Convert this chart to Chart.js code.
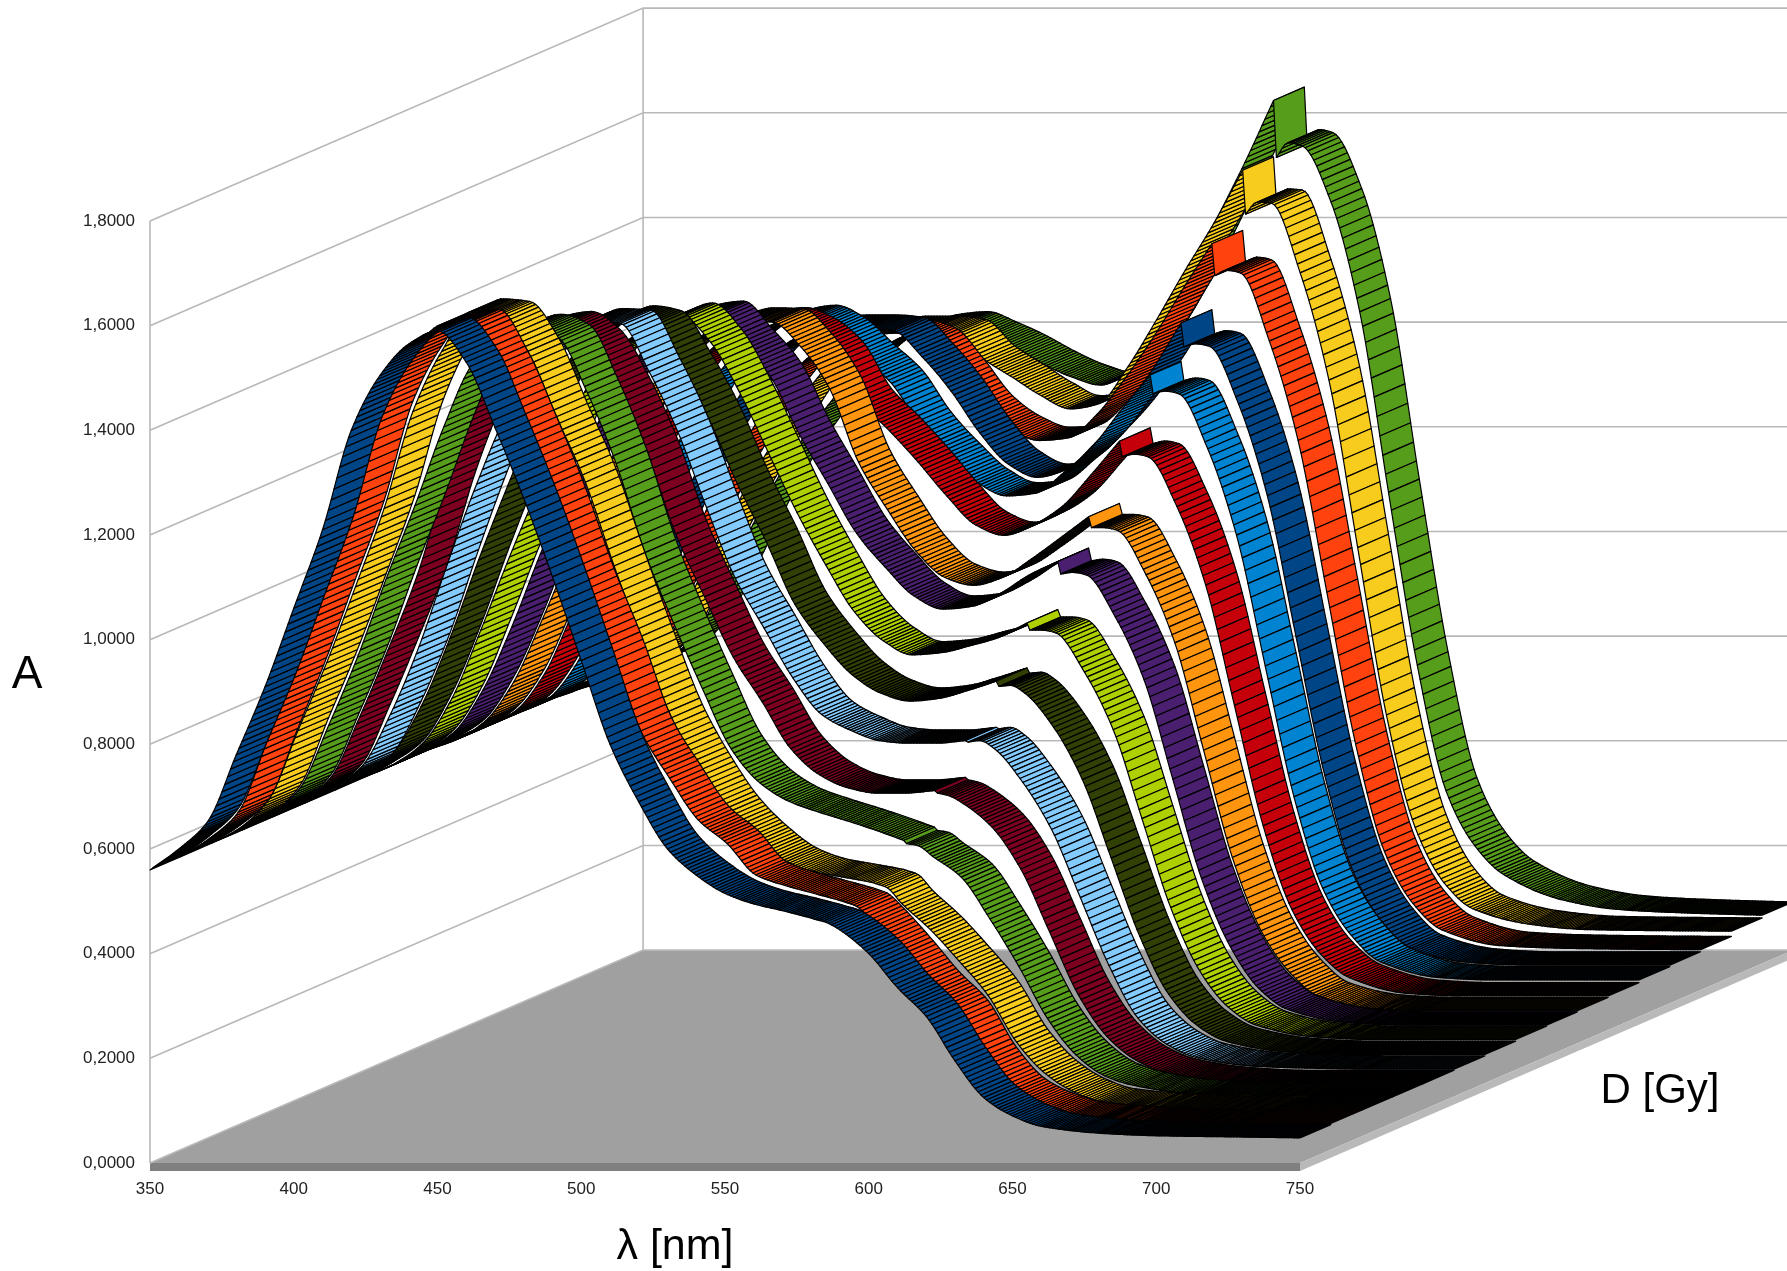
<!DOCTYPE html>
<html><head><meta charset="utf-8">
<style>html,body{margin:0;padding:0;background:#fff}canvas{display:block;filter:blur(.45px)}</style>
<script src="https://cdn.jsdelivr.net/npm/chart.js@4/dist/chart.umd.min.js"></script>
</head><body>
<canvas id="c" width="1787" height="1271"></canvas>
<script>
const wavelengths=[350,360,370,380,390,400,410,420,430,440, 450,460,470,480,490,500,510,520,530,540, 550,560,570,580,581,585,590,600,610,620, 630,640,650,660,680,700,725,750];
const s00=[.56,.60,.652,.78,.91,1.06,1.21,1.40,1.505,1.565, 1.59,1.53,1.405,1.27,1.12,.96,.80,.69,.60,.55, .515,.495,.482,.468,.466,.46,.445,.40,.335,.28, .195,.125,.09,.07,.057,.052,.05,.048];
const s01=[.56,.595,.645,.78,.915,1.065,1.215,1.405,1.51,1.575, 1.58,1.50,1.375,1.24,1.085,.95,.80,.71,.63,.585, .525,.505,.49,.475,.473,.465,.44,.38,.315,.26, .17,.11,.082,.066,.056,.052,.05,.05];
const s02=[.56,.59,.645,.775,.905,1.05,1.20,1.385,1.50,1.575, 1.57,1.50,1.375,1.25,1.09,.94,.80,.70,.62,.565, .525,.505,.495,.485,.483,.475,.445,.395,.335,.27, .18,.12,.085,.066,.056,.052,.05,.05];
const s03=[.56,.59,.64,.76,.89,1.04,1.18,1.33,1.45,1.50, 1.52,1.50,1.395,1.26,1.09,.955,.83,.715,.65,.615, .595,.578,.56,.54,.534,.53,.51,.47,.39,.30, .20,.13,.09,.072,.056,.052,.05,.05];
const s04=[.56,.59,.635,.75,.88,1.02,1.20,1.34,1.44,1.49, 1.50,1.465,1.375,1.255,1.10,.98,.865,.78,.69,.64, .615,.605,.605,.61,.605,.60,.585,.54,.46,.34, .22,.14,.095,.072,.055,.05,.05,.05];
const s05=[.56,.59,.63,.73,.86,1.02,1.17,1.30,1.40,1.455, 1.48,1.477,1.385,1.27,1.125,.99,.895,.80,.73,.70, .68,.675,.675,.68,.677,.68,.665,.60,.51,.38, .25,.15,.10,.075,.058,.054,.052,.052];
const s06=[.56,.59,.63,.72,.85,1.0,1.14,1.27,1.37,1.43, 1.46,1.45,1.37,1.27,1.145,1.035,.915,.84,.78,.745, .73,.735,.75,.768,.758,.76,.745,.68,.58,.43, .28,.17,.11,.08,.06,.055,.055,.055];
const s07=[.56,.585,.625,.71,.84,.98,1.11,1.23,1.33,1.39, 1.42,1.44,1.39,1.295,1.18,1.065,.965,.875,.82,.793, .797,.81,.826,.854,.84,.84,.835,.76,.65,.48, .31,.19,.12,.085,.063,.058,.058,.058];
const s08=[.56,.585,.62,.70,.82,.96,1.09,1.21,1.31,1.37, 1.41,1.418,1.365,1.30,1.19,1.095,1.0,.935,.88,.855, .86,.885,.92,.946,.922,.925,.92,.84,.72,.53, .34,.21,.13,.09,.065,.06,.06,.06];
const s09=[.56,.58,.615,.69,.81,.94,1.07,1.18,1.27,1.33, 1.365,1.38,1.378,1.33,1.25,1.11,1.02,.94,.89,.875, .89,.925,.965,1.006,.985,.985,.98,.895,.765,.56, .355,.215,.135,.09,.066,.062,.062,.062];
const s10=[.56,.58,.61,.68,.80,.93,1.05,1.16,1.25,1.31, 1.345,1.355,1.335,1.29,1.20,1.145,1.085,1.02,.965,.945, .965,1.0,1.06,1.125,1.095,1.10,1.095,1.0,.85,.62, .39,.23,.145,.10,.07,.065,.065,.065];
const s11=[.56,.58,.605,.67,.79,.91,1.03,1.14,1.23,1.29, 1.325,1.334,1.31,1.26,1.21,1.13,1.07,1.02,.995,1.0, 1.04,1.09,1.16,1.226,1.19,1.195,1.19,1.085,.92,.67, .42,.245,.155,.105,.075,.07,.07,.07];
const s12=[.56,.58,.60,.66,.77,.89,1.0,1.10,1.19,1.25, 1.28,1.29,1.29,1.285,1.235,1.17,1.09,1.03,1.005,1.02, 1.07,1.13,1.21,1.30,1.254,1.26,1.255,1.145,.97,.70, .435,.25,.155,.105,.078,.073,.073,.073];
const s13=[.56,.575,.595,.65,.76,.87,.98,1.07,1.15,1.21, 1.24,1.25,1.255,1.24,1.18,1.11,1.07,1.05,1.055,1.10, 1.17,1.25,1.34,1.426,1.365,1.375,1.37,1.24,1.05,.76, .47,.265,.165,.115,.085,.08,.078,.077];
const s14=[.56,.575,.59,.645,.75,.86,.96,1.05,1.13,1.19, 1.225,1.237,1.237,1.23,1.18,1.145,1.11,1.085,1.095,1.165, 1.255,1.35,1.44,1.541,1.457,1.48,1.478,1.345,1.14,.82, .50,.285,.18,.13,.10,.09,.088,.087];
const s15=[.56,.57,.585,.64,.74,.85,.95,1.03,1.10,1.16, 1.195,1.215,1.22,1.20,1.175,1.145,1.12,1.105,1.135,1.21, 1.31,1.42,1.53,1.649,1.54,1.568,1.562,1.455,1.245,.90, .57,.33,.225,.17,.122,.103,.096,.092];
const seriesValues=[s00,s01,s02,s03,s04,s05,s06,s07,s08,s09,s10,s11,s12,s13,s14,s15];
const seriesColours=["#004586","#ff420e","#f8cc1c","#579d1c","#7e0021","#83caff","#314004","#aecf00","#4b1f6f","#ff950e","#c5000b","#0084d1","#004586","#ff420e","#f8cc1c","#579d1c"];
const yTicks=[0,.2,.4,.6,.8,1,1.2,1.4,1.6,1.8];
const xTicks=[350,400,450,500,550,600,650,700,750];
const stepAfter=580; // no smoothing across the detector step

// depth axis expressed in axis units: how far one full chart depth moves along lambda and A
const depthNm=171.5, depthA=0.4068;

// Monotone cubic tangents for the slat texture between read values
function tangents(xs,ys){
  const n=xs.length,d=[],m=new Array(n).fill(0);
  for(let i=0;i<n-1;i++)d.push((ys[i+1]-ys[i])/(xs[i+1]-xs[i]));
  for(let i=1;i<n-1;i++){
    if(xs[i]===stepAfter||xs[i-1]===stepAfter){m[i]=xs[i]===stepAfter?d[i-1]:d[i];continue;}
    m[i]=d[i-1]*d[i]<=0?0:2*d[i-1]*d[i]/(d[i-1]+d[i]);
  }
  m[0]=d[0];m[n-1]=d[n-2];
  return m;
}
class RibbonController extends Chart.LineController{
  draw(){
    const meta=this.getMeta(),ctx=this.chart.ctx,xS=meta.xScale,yS=meta.yScale;
    const ds=this.getDataset(),k=this.index,n=this.chart.data.datasets.length;
    const d0=k/n,d1=(k+1)/n;
    const xs=[],ys=[];
    for(let i=0;i<meta.data.length;i++){const p=this.getParsed(i);xs.push(p.x);ys.push(p.y);}
    const m=tangents(xs,ys);
    const lam=[],val=[];
    for(let i=0;i<xs.length-1;i++){
      const h=xs[i+1]-xs[i];
      for(let l=xs[i];l<xs[i+1];l+=1){
        const t=(l-xs[i])/h,t2=t*t,t3=t2*t;
        lam.push(l);
        val.push((2*t3-3*t2+1)*ys[i]+(t3-2*t2+t)*h*m[i]+(-2*t3+3*t2)*ys[i+1]+(t3-t2)*h*m[i+1]);
      }
    }
    lam.push(xs[xs.length-1]);val.push(ys[ys.length-1]);
    const fx=(l,d)=>xS.getPixelForValue(l+d*depthNm),fy=(v,d)=>yS.getPixelForValue(v+d*depthA);
    ctx.save();
    ctx.fillStyle=ds.backgroundColor;ctx.strokeStyle='#000';ctx.lineWidth=1.2;ctx.lineJoin='round';
    for(let i=0;i<lam.length-1;i++){
      ctx.beginPath();
      ctx.moveTo(fx(lam[i],d0),fy(val[i],d0));
      ctx.lineTo(fx(lam[i],d1),fy(val[i],d1));
      ctx.lineTo(fx(lam[i+1],d1),fy(val[i+1],d1));
      ctx.lineTo(fx(lam[i+1],d0),fy(val[i+1],d0));
      ctx.closePath();ctx.fill();ctx.stroke();
    }
    ctx.restore();
  }
}
RibbonController.id='ribbon';
RibbonController.defaults=Object.assign({},Chart.LineController.defaults);
Chart.register(RibbonController);

const room={id:'room',beforeDatasetsDraw(chart){
  const {ctx}=chart,x=chart.scales.x,y=chart.scales.y;
  const X=(l,d)=>x.getPixelForValue(l+d*depthNm),Y=(a,d)=>y.getPixelForValue(a+d*depthA);
  const strip=8;
  ctx.save();
  ctx.fillStyle='#a0a0a0';ctx.beginPath();
  ctx.moveTo(X(350,0),Y(0,0));ctx.lineTo(X(750,0),Y(0,0));ctx.lineTo(X(750,1),Y(0,1));ctx.lineTo(X(350,1),Y(0,1));ctx.closePath();ctx.fill();
  ctx.fillStyle='#808080';ctx.fillRect(X(350,0),Y(0,0),X(750,0)-X(350,0),strip);
  ctx.fillStyle='#b9b9b9';ctx.beginPath();
  ctx.moveTo(X(750,0),Y(0,0));ctx.lineTo(X(750,1),Y(0,1));ctx.lineTo(X(750,1),Y(0,1)+strip);ctx.lineTo(X(750,0),Y(0,0)+strip);ctx.closePath();ctx.fill();
  ctx.strokeStyle='#b8b8b8';ctx.lineWidth=1.6;
  ctx.beginPath();
  for(const t of yTicks){
    ctx.moveTo(X(350,0),Y(t,0));ctx.lineTo(X(350,1),Y(t,1));ctx.lineTo(chart.width+5,Y(t,1));
  }
  ctx.moveTo(X(350,0),Y(0,0));ctx.lineTo(X(350,0),Y(1.8,0));
  ctx.moveTo(X(350,1),Y(0,1));ctx.lineTo(X(350,1),Y(1.8,1));
  ctx.stroke();
  ctx.restore();
},afterDraw(chart){
  const {ctx}=chart;
  ctx.save();ctx.fillStyle='#000';ctx.textAlign='center';ctx.textBaseline='middle';
  ctx.font='46px "Liberation Sans"';ctx.fillText('A',27,675);
  ctx.font='43px "Liberation Sans"';ctx.fillText('λ [nm]',675,1247);
  ctx.font='42px "Liberation Sans"';ctx.fillText('D [Gy]',1660,1091);
  ctx.restore();
}};

new Chart(document.getElementById('c'),{
  data:{datasets:seriesValues.map((v,i)=>({
    type:'ribbon',label:'series '+(i+1),
    data:wavelengths.map((w,j)=>({x:w,y:v[j]})),
    backgroundColor:seriesColours[i],borderColor:'#000',pointRadius:0,clip:false
  }))},
  options:{
    responsive:false,animation:false,
    layout:{padding:{left:0,right:487,top:221,bottom:0}},
    plugins:{legend:{display:false},tooltip:{enabled:false},title:{display:false}},
    scales:{
      x:{type:'linear',min:350,max:750,afterFit(s){s.height=108;},
        afterBuildTicks(s){s.ticks=xTicks.map(v=>({value:v}));},
        grid:{display:false},border:{display:false},
        ticks:{padding:8,color:'#222',font:{family:'"Liberation Sans"',size:17},maxRotation:0,autoSkip:false}},
      y:{type:'linear',min:0,max:1.8,afterFit(s){s.width=150;},
        afterBuildTicks(s){s.ticks=yTicks.map(v=>({value:v}));},
        grid:{display:false},border:{display:false},
        ticks:{padding:7,color:'#222',font:{family:'"Liberation Sans"',size:17},autoSkip:false,
          callback:v=>v.toFixed(4).replace('.',',')}}
    }
  },
  plugins:[room]
});
</script>
</body></html>
